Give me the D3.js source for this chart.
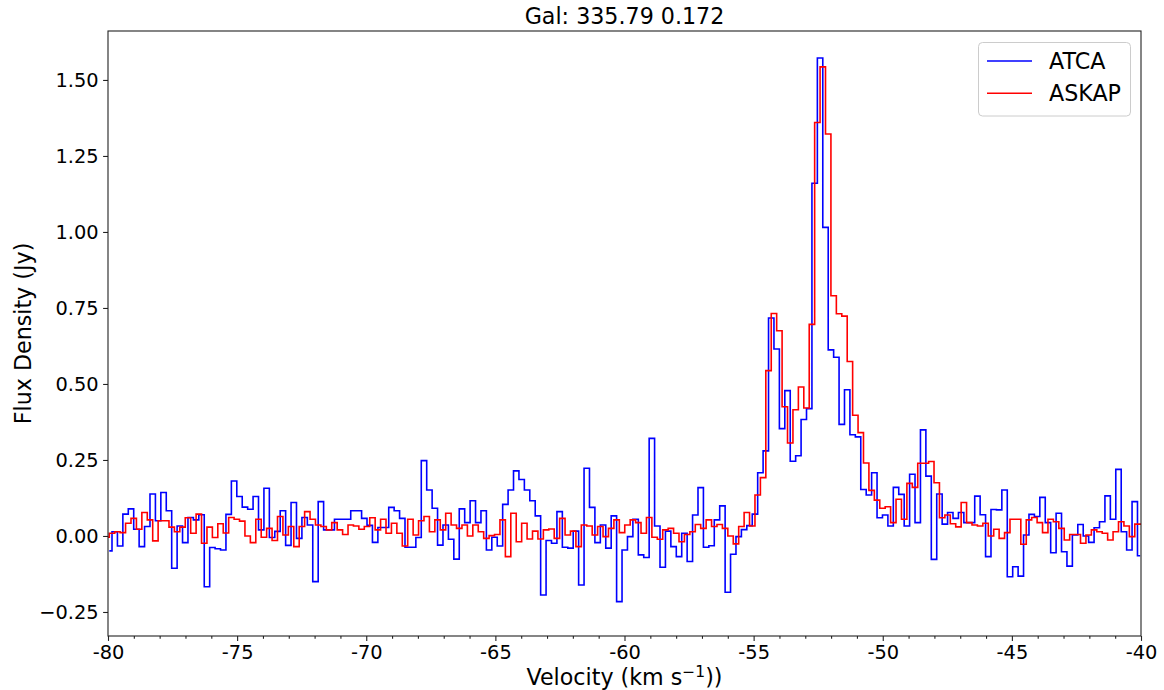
<!DOCTYPE html>
<html><head><meta charset="utf-8">
<script src="https://cdn.jsdelivr.net/npm/d3@7"></script>
<style>
body{margin:0;background:#fff;}
text{font-family:"DejaVu Sans",sans-serif;fill:#000;}
</style></head>
<body><svg id="c" width="1164" height="690"></svg>
<script>
// channel grids (km/s): first channel centre and channel width
const atcaVel0 = -79.950;
const askapVel0 = -80.055;
const chanWidth = 0.2101;

// ATCA flux density per channel (Jy)
const atcaFlux = [
-0.049,0.014,-0.033,0.072,0.089,0.022,-0.035,0.031,0.138,0.05,
0.143,0.083,-0.106,0.033,-0.022,0.061,0.053,0.07,-0.167,-0.038,
-0.042,-0.046,0.071,0.181,0.13,0.095,0.088,0.13,0.02,0.157,
-0.005,0.015,0.083,-0.031,0.11,-0.008,0.061,0.036,-0.15,0.113,
0.02,0.02,0.055,0.055,0.055,0.083,0.083,0.058,0.035,-0.021,
0.028,0.028,0.094,0.083,0.058,-0.037,-0.037,-0.005,0.248,0.151,
0.091,-0.03,0.036,-0.011,-0.076,0.089,0.044,0.116,0.044,0.083,
-0.046,-0.004,-0.033,0.104,0.151,0.214,0.186,0.151,0.116,0.066,
-0.194,-0.015,-0.024,0.08,-0.037,-0.04,0.016,-0.161,0.223,0.094,
-0.022,0.036,-0.04,0.066,-0.216,-0.046,-0.002,0.055,-0.062,-0.071,
0.321,0.033,-0.103,0.016,-0.035,-0.068,0.009,-0.084,0.069,0.159,
-0.037,-0.032,0.053,0.099,-0.185,-0.06,-0.002,0.021,0.034,0.072,
0.208,0.28,0.717,0.615,0.353,0.478,0.246,0.264,0.383,0.419,
1.16,1.572,1.015,0.612,0.588,0.367,0.481,0.333,0.326,0.153,
0.135,0.208,0.06,0.069,0.033,0.16,0.137,0.033,0.203,0.044,
0.349,0.197,-0.077,0.138,0.039,0.077,0.058,0.077,0.044,0.044,
0.131,0.07,-0.068,0.087,0.086,0.151,-0.134,-0.101,-0.132,0.003,
0.071,0.064,0.127,0.044,-0.055,0.075,-0.052,-0.099,0.003,0.038,
0.0,-0.021,0.027,0.047,0.132,0.055,0.219,0.014,-0.046,0.113,
-0.065
];

// ASKAP flux density per channel (Jy)
const askapFlux = [
-0.004,0.009,0.014,0.011,0.042,0.058,0.022,0.077,0.053,-0.016,
0.05,0.05,0.029,0.014,0.029,0.06,0.009,0.072,-0.024,0.029,
-0.005,0.04,0.01,0.061,0.055,0.049,0.0,-0.022,0.055,-0.004,
0.025,-0.015,0.064,0.003,0.031,-0.035,0.031,0.08,0.055,0.036,
0.031,0.02,0.044,0.02,0.005,0.036,0.033,0.022,0.031,0.06,
0.02,0.055,0.009,0.042,0.009,-0.033,0.055,0.003,0.05,0.064,
0.014,0.053,0.02,0.075,0.036,0.025,0.036,0.0,0.036,0.014,
-0.008,0.001,0.005,0.053,-0.068,0.075,-0.019,0.042,-0.01,0.016,
-0.01,0.02,0.023,-0.008,0.058,0.003,0.016,-0.035,0.036,0.033,
0.003,0.031,-0.002,0.025,0.053,0.011,0.036,0.053,0.044,0.009,
0.061,-0.004,-0.011,0.02,0.025,0.009,-0.019,0.005,0.014,0.038,
0.025,0.053,0.031,0.038,0.025,0.0,-0.026,0.031,0.077,0.033,
0.135,0.192,0.544,0.732,0.675,0.425,0.306,0.415,0.49,0.421,
0.696,1.36,1.543,1.322,0.79,0.731,0.723,0.574,0.397,0.34,
0.24,0.15,0.118,0.091,0.096,0.044,0.121,0.055,0.173,0.16,
0.239,0.239,0.245,0.175,0.06,0.069,0.04,0.03,0.11,0.044,
0.036,0.033,0.042,0.0,0.022,-0.008,0.011,0.055,0.055,-0.027,
0.053,0.061,0.044,0.011,0.055,0.047,0.025,-0.013,0.005,0.005,
-0.024,0.003,0.02,0.014,0.009,-0.013,0.014,0.047,0.033,-0.002,
0.039,0.039
];

const xTicks = [-80,-75,-70,-65,-60,-55,-50,-45,-40];
const yTicks = [-0.25,0,0.25,0.5,0.75,1.0,1.25,1.5];
const seriesNames = ["ATCA","ASKAP"];
const seriesColors = ["#0000ff","#ff0000"];
const titleText = "Gal: 335.79 0.172";

const svg = d3.select("#c");
const L=108, R=1141, T=31, B=636;
const x = d3.scaleLinear().domain([-80,-40]).range([L,R]);
const y = d3.scaleLinear().domain([-0.329,1.661]).range([B,T]);

svg.append("defs").append("clipPath").attr("id","clip")
  .append("rect").attr("x",L).attr("y",T).attr("width",R-L).attr("height",B-T);

const mk = (v0, arr) => arr.map((f,i)=>({v: v0 + i*chanWidth, f}));
const series = [mk(atcaVel0, atcaFlux), mk(askapVel0, askapFlux)];
const line = d3.line().x(d=>x(d.v)).y(d=>y(d.f)).curve(d3.curveStep);

const g = svg.append("g").attr("clip-path","url(#clip)");
series.forEach((s,i)=>{
  g.append("path").datum(s).attr("d",line).attr("fill","none")
   .attr("stroke",seriesColors[i]).attr("stroke-width",1.6).attr("stroke-linejoin","miter");
});

// axes
svg.append("g").attr("transform",`translate(0,${B})`)
  .call(d3.axisBottom(x).tickValues(xTicks).tickFormat(d=>String(d)).tickSize(4.9).tickPadding(4.5));
const minor = d3.range(-80,-39,1).filter(d=>d%5!==0);
svg.append("g").attr("transform",`translate(0,${B})`)
  .call(d3.axisBottom(x).tickValues(minor).tickFormat("").tickSize(2.8));
svg.append("g").attr("transform",`translate(${L},0)`)
  .call(d3.axisLeft(y).tickValues(yTicks).tickFormat(d3.format(".2f")).tickSize(4.9).tickPadding(4.5));
svg.selectAll(".domain").remove();
svg.selectAll(".tick line").attr("stroke","#222").attr("stroke-width",1.1);
svg.selectAll(".tick text").style("font-size","19.4px").style("font-family","DejaVu Sans");

svg.append("rect").attr("x",L).attr("y",T).attr("width",R-L).attr("height",B-T)
  .attr("fill","none").attr("stroke","#222").attr("stroke-width",1.1);

// title & labels
svg.append("text").attr("x",(L+R)/2).attr("y",24).attr("text-anchor","middle")
  .style("font-size","22.2px").text(titleText);
svg.append("text").attr("transform",`translate(31,${(T+B)/2}) rotate(-90)`).attr("text-anchor","middle")
  .style("font-size","22.2px").text("Flux Density (Jy)");
const xl = svg.append("text").attr("x",(L+R)/2).attr("y",685).attr("text-anchor","middle").style("font-size","22.2px");
xl.append("tspan").text("Velocity (km s");
xl.append("tspan").attr("dy",-8).style("font-size","15.5px").text("\u22121");
xl.append("tspan").attr("dy",8).text("))");

// legend
const lg = svg.append("g");
lg.append("rect").attr("x",978.5).attr("y",42.5).attr("width",152).attr("height",73.5).attr("rx",4)
  .attr("fill","#fff").attr("fill-opacity",0.8).attr("stroke","#cccccc").attr("stroke-width",1);
seriesNames.forEach((n,i)=>{
  const yy = 61 + i*32.3;
  lg.append("line").attr("x1",987).attr("x2",1032).attr("y1",yy).attr("y2",yy)
    .attr("stroke",seriesColors[i]).attr("stroke-width",1.6);
  lg.append("text").attr("x",1049).attr("y",yy+8).style("font-size","22.2px").text(n);
});
</script></body></html>
